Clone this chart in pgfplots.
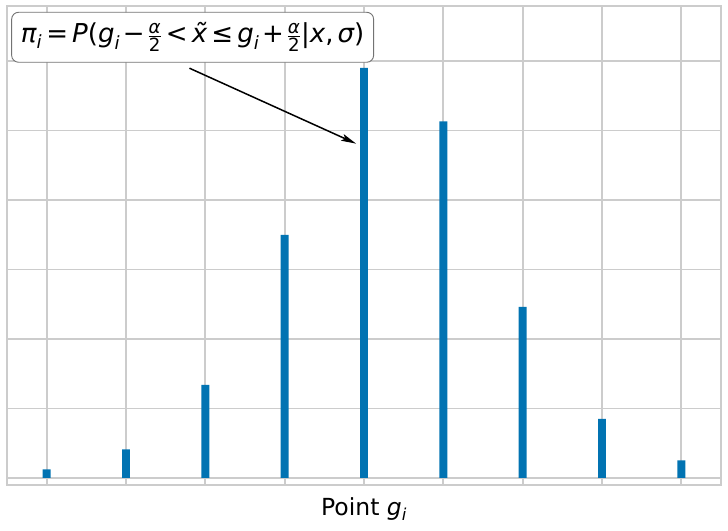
\documentclass[border=0pt]{standalone}
\usepackage{amsmath}
\usepackage{fontspec}
\setmainfont{DejaVu Sans}
\usepackage{pgfplots}
\pgfplotsset{compat=1.18}
\usetikzlibrary{arrows.meta}
\definecolor{barblue}{RGB}{1,115,178}
\definecolor{gridgray}{RGB}{204,204,204}
\newcommand{\T}[1]{\text{#1}}
\newcommand{\I}[1]{\text{\itshape #1}}
\begin{document}
\begin{tikzpicture}
\path[use as bounding box] (0,0) rectangle (728pt,530pt);
\begin{axis}[
  at={(7pt,45pt)}, anchor=south west,
  width=714pt, height=479pt, scale only axis,
  xmin=-0.5, xmax=8.5, ymin=-0.1007, ymax=6.79,
  xtick={0,...,8}, xticklabels={}, ytick={0,...,6}, yticklabels={},
  major tick length=0pt,
  grid=major, grid style={gridgray, line width=1.8pt},
  axis line style={gridgray, line width=1.4pt},
  xlabel={Point $\I{g}_{\I{i}}$},
  xlabel style={at={(axis description cs:0.5,0)}, anchor=base, yshift=-30pt, font=\fontsize{23.5}{27}\selectfont},
]
\addplot[ybar, bar width=0.1, fill=barblue, draw=none] coordinates {
  (0,0.125) (1,0.41) (2,1.338) (3,3.496) (4,5.90) (5,5.13) (6,2.46) (7,0.849) (8,0.255)
};
\draw[-{Stealth[length=15pt,width=7pt,inset=3pt]}, line width=1.5pt] (axis cs:1.80,5.895) -- (axis cs:3.90,4.81);
\node[draw=black!55, rounded corners=7pt, fill=white, line width=0.9pt, minimum width=362pt, minimum height=50pt, inner sep=0pt, font=\fontsize{26}{30}\selectfont] at (axis cs:1.84,6.34)
  {\thickmuskip=3mu\medmuskip=2mu$\I{π}_{\I{i}} \mathrel{\T{=}} \I{P}\T{(}\I{g}_{\I{i}} \mathbin{\T{−}} \frac{\I{α}}{\T{2}} \mathrel{\T{<}} \I{\~x} \mathrel{\T{≤}} \I{g}_{\I{i}} \mathbin{\T{+}} \frac{\I{α}}{\T{2}}\T{|}\I{x}\T{,}\,\I{σ}\T{)}$};
\end{axis}
\end{tikzpicture}
\end{document}
